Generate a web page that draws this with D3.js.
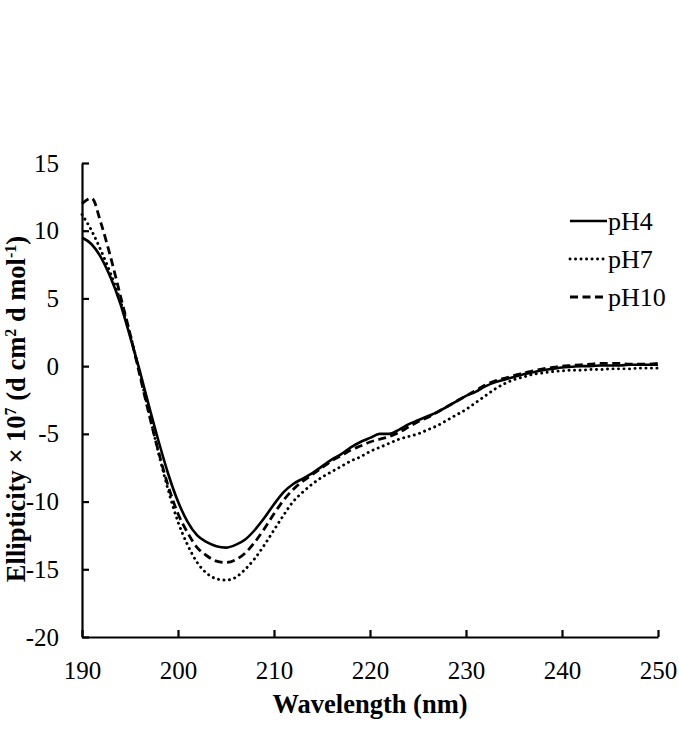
<!DOCTYPE html>
<html>
<head>
<meta charset="utf-8">
<script src="https://cdn.jsdelivr.net/npm/d3@7"></script>
<style>
  html, body { margin: 0; padding: 0; background: #fff; }
  svg text { font-family: "Times New Roman", "Liberation Serif", "DejaVu Serif", serif; }
  .tick-label { font-size: 25px; fill: #000; }
  .axis-title { font-size: 26.5px; font-weight: bold; fill: #000; }
  .legend-label { font-size: 26px; fill: #000; }
</style>
</head>
<body>
<svg id="chart" width="679" height="736" style="display:block"></svg>
<script>
// wavelength grid, 1 nm steps
const wavelengths = d3.range(190, 251);

const pH4 = [
  9.5, 9.0, 8.0, 6.5, 4.6, 2.2, -0.3, -3.0, -5.6, -8.0,
  -10.0, -11.5, -12.5, -13.0, -13.3, -13.4, -13.2, -12.8, -12.1, -11.2,
  -10.2, -9.3, -8.7, -8.3, -7.9, -7.4, -6.9, -6.5, -6.0, -5.6,
  -5.3, -5.0, -5.0, -4.7, -4.3, -4.0, -3.7, -3.4, -3.0, -2.6,
  -2.2, -1.9, -1.5, -1.2, -1.0, -0.8, -0.6, -0.45, -0.3, -0.2,
  -0.1, -0.05, 0.0, 0.0, 0.05, 0.05, 0.05, 0.1, 0.1, 0.1, 0.1
];

const pH7 = [
  11.2, 10.0, 8.5, 6.8, 4.8, 2.4, -0.5, -3.5, -6.5, -9.2,
  -11.5, -13.2, -14.5, -15.3, -15.7, -15.8, -15.6, -15.0, -14.2, -13.2,
  -12.1, -11.0, -10.0, -9.3, -8.7, -8.2, -7.8, -7.4, -7.0, -6.7,
  -6.3, -6.0, -5.7, -5.4, -5.2, -5.0, -4.7, -4.4, -4.0, -3.6,
  -3.2, -2.7, -2.2, -1.7, -1.3, -1.0, -0.8, -0.6, -0.5, -0.4,
  -0.35, -0.3, -0.3, -0.25, -0.25, -0.2, -0.2, -0.2, -0.15, -0.15, -0.15
];

const pH10 = [
  12.0, 12.4, 10.5, 8.0, 5.2, 2.4, -0.6, -3.6, -6.4, -8.9,
  -10.9, -12.3, -13.4, -14.0, -14.4, -14.5, -14.3, -13.8, -13.0, -12.0,
  -10.9, -9.9, -9.1, -8.5, -8.0, -7.5, -7.0, -6.6, -6.2, -5.9,
  -5.6, -5.4, -5.2, -4.9, -4.5, -4.1, -3.8, -3.4, -3.0, -2.6,
  -2.2, -1.8, -1.4, -1.1, -0.9, -0.7, -0.5, -0.35, -0.2, -0.1,
  0.0, 0.05, 0.1, 0.15, 0.2, 0.2, 0.2, 0.15, 0.15, 0.15, 0.2
];

const seriesNames = ["pH4", "pH7", "pH10"];
const xTicks = [190, 200, 210, 220, 230, 240, 250];
const yTicks = [-20, -15, -10, -5, 0, 5, 10, 15];

const series = [
  { name: seriesNames[0], values: pH4, dash: null, cap: "butt", width: 2.6 },
  { name: seriesNames[1], values: pH7, dash: "0.1 5.4", cap: "round", width: 2.9 },
  { name: seriesNames[2], values: pH10, dash: "8 4.5", cap: "butt", width: 2.8 }
];

const svg = d3.select("#chart");
const plot = { left: 82, right: 658, top: 163, bottom: 637 };

const x = d3.scaleLinear().domain([190, 250]).range([plot.left, plot.right]);
const y = d3.scaleLinear().domain([-20, 15]).range([plot.bottom, plot.top]);

// x axis (ticks point inward), labels use a plain hyphen like the original
const xAxis = svg.append("g")
  .attr("transform", `translate(0,${plot.bottom})`)
  .call(d3.axisBottom(x).tickValues(xTicks).tickSize(-7).tickSizeOuter(0).tickFormat(d => String(d)))
  .attr("font-size", null).attr("font-family", null);
xAxis.select(".domain").attr("stroke", "#000").attr("stroke-width", 2.2);
xAxis.selectAll(".tick line").attr("stroke", "#000").attr("stroke-width", 2.2);
xAxis.selectAll(".tick text")
  .attr("class", "tick-label")
  .attr("dy", null)
  .attr("y", 42);

// y axis
const yAxis = svg.append("g")
  .attr("transform", `translate(${plot.left},0)`)
  .call(d3.axisLeft(y).tickValues(yTicks).tickSize(-7).tickSizeOuter(0).tickFormat(d => String(d)))
  .attr("font-size", null).attr("font-family", null);
yAxis.select(".domain").attr("stroke", "#000").attr("stroke-width", 2.2);
yAxis.selectAll(".tick line").attr("stroke", "#000").attr("stroke-width", 2.2);
yAxis.selectAll(".tick text")
  .attr("class", "tick-label")
  .attr("x", -23);

// axis titles
svg.append("text")
  .attr("class", "axis-title")
  .attr("x", 370)
  .attr("y", 713)
  .attr("text-anchor", "middle")
  .text("Wavelength (nm)");

const yTitle = svg.append("text")
  .attr("class", "axis-title")
  .attr("transform", "translate(25,409) rotate(-90)")
  .attr("text-anchor", "middle");
yTitle.append("tspan").text("Ellipticity × 10");
yTitle.append("tspan").attr("font-size", 16).attr("dy", -9).text("7");
yTitle.append("tspan").attr("dy", 9).text(" (d cm");
yTitle.append("tspan").attr("font-size", 16).attr("dy", -9).text("2");
yTitle.append("tspan").attr("dy", 9).text(" d mol");
yTitle.append("tspan").attr("font-size", 16).attr("dy", -9).text("-1");
yTitle.append("tspan").attr("dy", 9).text(")");

// curves
const line = d3.line()
  .x((d, i) => x(wavelengths[i]))
  .y(d => y(d))
  .curve(d3.curveMonotoneX);

svg.append("g").selectAll("path")
  .data(series)
  .join("path")
  .attr("d", d => line(d.values))
  .attr("fill", "none")
  .attr("stroke", "#000")
  .attr("stroke-width", d => d.width)
  .attr("stroke-linecap", d => d.cap)
  .attr("stroke-dasharray", d => d.dash);

// legend
const legend = svg.append("g").attr("transform", "translate(570,221)");
const item = legend.selectAll("g")
  .data(series)
  .join("g")
  .attr("transform", (d, i) => `translate(0,${i * 38})`);
item.append("line")
  .attr("x1", 0).attr("x2", 37).attr("y1", 0).attr("y2", 0)
  .attr("stroke", "#000")
  .attr("stroke-width", d => d.width)
  .attr("stroke-linecap", d => d.cap)
  .attr("stroke-dasharray", d => d.dash);
item.append("text")
  .attr("class", "legend-label")
  .attr("x", 38)
  .attr("y", 9)
  .text(d => d.name);
</script>
</body>
</html>
